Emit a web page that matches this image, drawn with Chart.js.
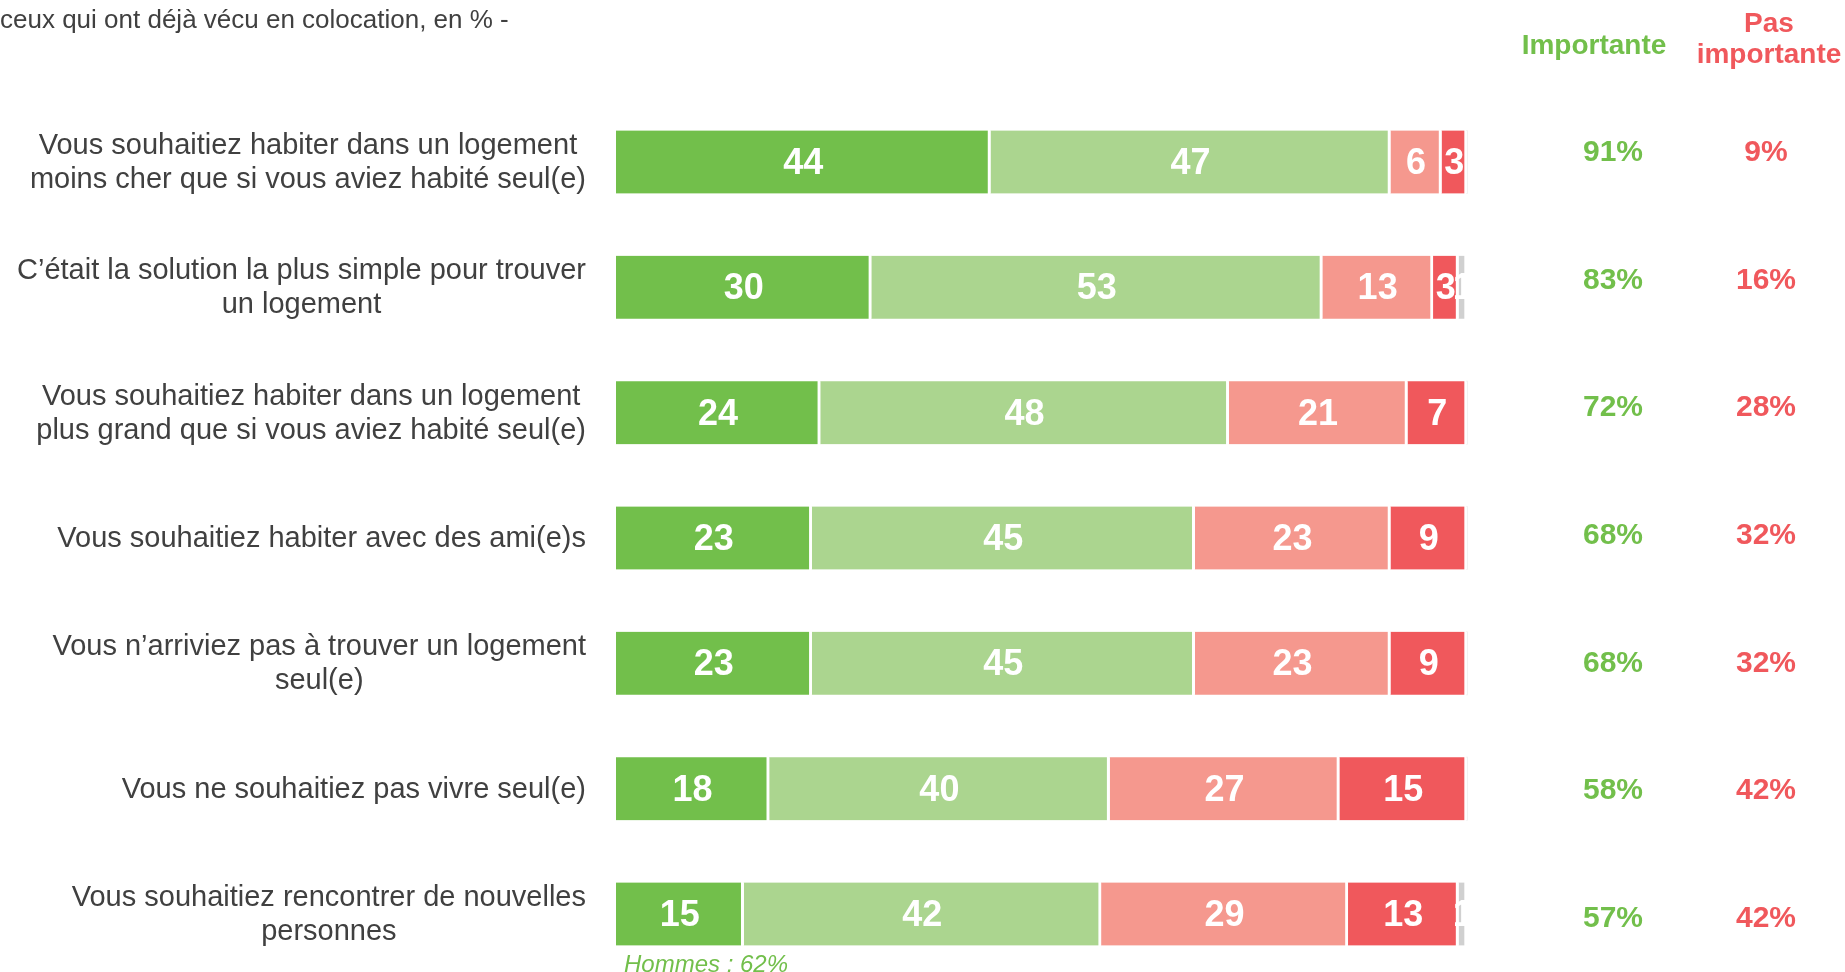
<!DOCTYPE html>
<html>
<head>
<meta charset="utf-8">
<script src="https://cdn.jsdelivr.net/npm/chart.js@4"></script>
<style>
  body { margin: 0; background: #fff; }
  #wrap { position: relative; width: 1845px; height: 972px; }
</style>
</head>
<body>
<div id="wrap"><canvas id="chart"></canvas></div>
<script>
const questions = [
  ['Vous souhaitiez habiter dans un logement', 'moins cher que si vous aviez habité seul(e)'],
  ['C’était la solution la plus simple pour trouver', 'un logement'],
  ['Vous souhaitiez habiter dans un logement', 'plus grand que si vous aviez habité seul(e)'],
  ['Vous souhaitiez habiter avec des ami(e)s'],
  ['Vous n’arriviez pas à trouver un logement', 'seul(e)'],
  ['Vous ne souhaitiez pas vivre seul(e)'],
  ['Vous souhaitiez rencontrer de nouvelles', 'personnes']
]

const tresImportante = [44, 30, 24, 23, 23, 18, 15]
const plutotImportante = [47, 53, 48, 45, 45, 40, 42]
const plutotPasImportante = [6, 13, 21, 23, 23, 27, 29]
const pasDuToutImportante = [3, 3, 7, 9, 9, 15, 13]
const nsp = [0, 1, 0, 0, 0, 0, 1]

const totalImportante = ['91%', '83%', '72%', '68%', '68%', '58%', '57%']
const totalPasImportante = ['9%', '16%', '28%', '32%', '32%', '42%', '42%']

const subtitle = 'ceux qui ont déjà vécu en colocation, en % -'
const note = 'Hommes : 62%'

const GREEN = '#72bf4b'
const RED = '#f0585c'
const FONT = '"Liberation Sans", Arial, sans-serif'

// question labels, value labels inside the bars, side columns
const textPlugin = {
  id: 'texts',
  afterDatasetsDraw (chart) {
    const { ctx, chartArea } = chart
    const y = chart.scales.y

    // left labels: block right-aligned, lines centred
    ctx.save()
    ctx.font = `29px ${FONT}`
    ctx.fillStyle = '#404040'
    ctx.textAlign = 'center'
    ctx.textBaseline = 'middle'
    chart.data.labels.forEach((lines, i) => {
      const w = Math.max(...lines.map(l => ctx.measureText(l).width))
      const cx = chartArea.left - 30 - w / 2
      const cy = y.getPixelForValue(i)
      const lh = 34
      lines.forEach((l, k) => {
        ctx.fillText(l, cx, cy + (k - (lines.length - 1) / 2) * lh + 1)
      })
    })
    ctx.restore()

    ctx.save()
    ctx.beginPath()
    ctx.rect(chartArea.left, 0, chartArea.right - chartArea.left, chart.height)
    ctx.clip()
    ctx.fillStyle = '#fff'
    ctx.font = `bold 36px ${FONT}`
    ctx.textAlign = 'center'
    ctx.textBaseline = 'middle'
    chart.data.datasets.forEach((ds, di) => {
      chart.getDatasetMeta(di).data.forEach((bar, i) => {
        const v = ds.data[i]
        if (!v) return
        ctx.fillText(String(v), (bar.x + bar.base) / 2, bar.y + 2)
      })
    })
    ctx.restore()

    ctx.save()
    ctx.textAlign = 'center'
    ctx.textBaseline = 'middle'
    ctx.font = `bold 30px ${FONT}`
    const y0 = y.getPixelForValue(0)
    totalImportante.forEach((t, i) => {
      const py = y0 - 9 + (y.getPixelForValue(i) - y0) * 1.018
      ctx.fillStyle = GREEN
      ctx.fillText(t, 1613, py)
      ctx.fillStyle = RED
      ctx.fillText(totalPasImportante[i], 1766, py)
    })

    ctx.textBaseline = 'alphabetic'
    ctx.font = `bold 28px ${FONT}`
    ctx.fillStyle = GREEN
    ctx.fillText('Importante', 1594, 54)
    ctx.fillStyle = RED
    ctx.fillText('Pas', 1769, 32)
    ctx.fillText('importante', 1769, 63)

    ctx.textAlign = 'left'
    ctx.font = `26px ${FONT}`
    ctx.fillStyle = '#404040'
    ctx.fillText(subtitle, 0, 28)

    ctx.font = `italic 24px ${FONT}`
    ctx.fillStyle = GREEN
    ctx.fillText(note, 624, 972)
    ctx.restore()
  }
}

const seg = (label, data, color) => ({
  label,
  data,
  backgroundColor: color,
  borderColor: '#fff',
  borderWidth: { top: 0, bottom: 0, left: 0, right: 3 },
  borderSkipped: false,
  barThickness: 63,
  clip: false
})

document.addEventListener('DOMContentLoaded', () => {
  new Chart(document.getElementById('chart'), {
    type: 'bar',
    data: {
      labels: questions,
      datasets: [
        seg('Très importante', tresImportante, GREEN),
        seg('Plutôt importante', plutotImportante, '#abd58f'),
        seg('Plutôt pas importante', plutotPasImportante, '#f5988e'),
        seg('Pas du tout importante', pasDuToutImportante, RED),
        seg('NSP', nsp, '#d0d0d0')
      ]
    },
    options: {
      indexAxis: 'y',
      responsive: true,
      maintainAspectRatio: false,
      animation: false,
      layout: { padding: { top: 162, bottom: 58, left: 0, right: 378 } },
      plugins: { legend: { display: false }, tooltip: { enabled: false } },
      scales: {
        x: { stacked: true, min: 0, max: 100, display: false },
        y: {
          stacked: true,
          offset: false,
          grid: { display: false, drawTicks: false },
          border: { display: false },
          afterFit: (scale) => { scale.width = 616 },
          ticks: { display: false }
        }
      }
    },
    plugins: [textPlugin]
  })
})
</script>
</body>
</html>
